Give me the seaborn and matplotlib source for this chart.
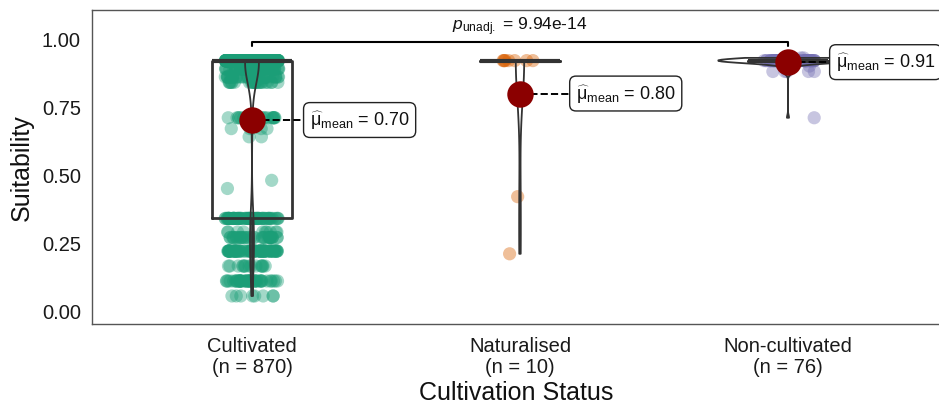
import numpy as np
import pandas as pd
import seaborn as sns
import matplotlib
matplotlib.use("Agg")
import matplotlib.pyplot as plt

# values (value levels and how many points sit at each)
categories = ["Cultivated", "Naturalised", "Non-cultivated"]

cult_values = [0.055, 0.11, 0.165, 0.22, 0.27, 0.29, 0.34, 0.45, 0.48,
               0.64, 0.67, 0.71, 0.84, 0.86, 0.89, 0.92]
cult_counts = [8, 45, 15, 75, 35, 10, 70, 1, 1, 2, 5, 20, 25, 40, 60, 458]

nat_values = [0.21, 0.42, 0.92]
nat_counts = [1, 1, 8]

noncult_values = [0.71, 0.88, 0.90, 0.92, 0.93]
noncult_counts = [1, 5, 2, 66, 2]

p_label = r"$p_{\mathrm{unadj.}}$ = 9.94e-14"
palette = ["#1B9E77", "#D95F02", "#7570B3"]

groups = {
    "Cultivated": np.repeat(cult_values, cult_counts),
    "Naturalised": np.repeat(nat_values, nat_counts),
    "Non-cultivated": np.repeat(noncult_values, noncult_counts),
}
df = pd.concat([pd.DataFrame({"status": k, "suit": v}) for k, v in groups.items()],
               ignore_index=True)

sns.set_theme(style="white")
plt.rcParams["font.family"] = ["Liberation Sans", "DejaVu Sans"]
plt.rcParams["mathtext.fontset"] = "custom"
plt.rcParams["mathtext.rm"] = "Liberation Sans"
plt.rcParams["mathtext.it"] = "Liberation Sans:italic"

fig = plt.figure(figsize=(9.39, 4.06), dpi=100)
ax = fig.add_axes([92 / 939, 1 - 325 / 406, (941 - 92) / 939, (325 - 11) / 406])

np.random.seed(3)
sns.stripplot(data=df, x="status", y="suit", hue="status", order=categories,
              palette=palette, jitter=0.1, size=9.5, alpha=0.4, linewidth=0,
              legend=False, ax=ax, zorder=1)
sns.boxplot(data=df, x="status", y="suit", order=categories, fill=False,
            color="#333333", width=0.3, showfliers=False, linewidth=2,
            medianprops={"linewidth": 3}, capprops={"linewidth": 0}, ax=ax)
sns.violinplot(data=df, x="status", y="suit", order=categories, fill=False,
               color="#333333", inner=None, cut=0, width=0.52,
               density_norm="area", bw_method="silverman", bw_adjust=0.85,
               linewidth=1.3, ax=ax)
sns.pointplot(data=df, x="status", y="suit", order=categories, estimator="mean",
              errorbar=None, linestyle="none", color="#8B0000", markersize=17,
              ax=ax, zorder=10)

# mean labels
label_dx = [0.216, 0.209, 0.179]
for i, cat in enumerate(categories):
    m = groups[cat].mean()
    ax.plot([i, i + label_dx[i] - 0.02], [m, m], ls="--", color="black", lw=1.4, zorder=5)
    ax.text(i + label_dx[i], m, r"$\widehat{\mathrm{\mu}}_{\mathrm{mean}}$ = " + f"{m:.2f}",
            ha="left", va="center", fontsize=13, color="#111111", zorder=12,
            bbox=dict(boxstyle="round,pad=0.35", fc="white", ec="#222222", lw=1))

# significance bracket
ax.plot([0, 0, 2, 2], [0.974, 0.989, 0.989, 0.974], color="black", lw=1.5, clip_on=False)
ax.text(1, 1.005, p_label, ha="center", va="bottom", fontsize=12.5, color="#111111")

ax.set_xlim(-0.597, 2.571)
ax.set_ylim(-0.048, 1.106)
ax.set_yticks([0, 0.25, 0.5, 0.75, 1.0])
ax.set_yticklabels(["0.00", "0.25", "0.50", "0.75", "1.00"])
ax.set_xticks(range(len(categories)))
ax.set_xticklabels([f"{c}\n(n = {len(groups[c])})" for c in categories],
                   linespacing=1.1)
ax.tick_params(axis="both", length=0, labelsize=14.5, colors="#1a1a1a")
ax.tick_params(axis="y", pad=8)
ax.tick_params(axis="x", pad=9)
ax.set_xlabel("Cultivation Status", fontsize=18, color="#111111", labelpad=3)
ax.set_ylabel("Suitability", fontsize=18, color="#111111", labelpad=6)
for s in ax.spines.values():
    s.set_color("#555555")
    s.set_linewidth(1)

fig.savefig("out.png", dpi=100)
